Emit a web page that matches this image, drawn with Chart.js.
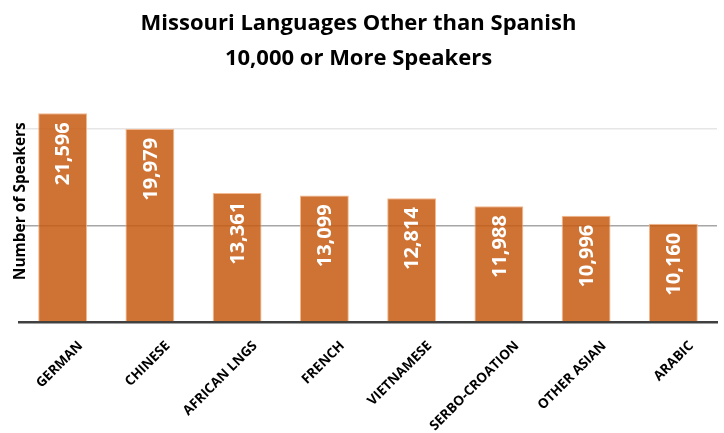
<!DOCTYPE html>
<html lang="en">
<head>
  <meta charset="UTF-8" />
  <title>Missouri Languages</title>
  <script src="https://cdn.jsdelivr.net/npm/chart.js"></script>
  <style>
    html, body { margin: 0; padding: 0; background: #fff; }
    .wrap { width: 724px; height: 433px; position: relative; }
  </style>
</head>
<body>
<div class="wrap"><canvas id="langChart"></canvas></div>

<script>
  // chart data
  const languages = ['GERMAN', 'CHINESE', 'AFRICAN LNGS', 'FRENCH', 'VIETNAMESE', 'SERBO-CROATION', 'OTHER ASIAN', 'ARABIC'];
  const speakers = [21596, 19979, 13361, 13099, 12814, 11988, 10996, 10160];
  const gridValues = [0, 10000, 20000];

  const fontFam = "'Open Sans', sans-serif";

  // white value labels written up the inside of each bar
  const barLabels = {
    id: 'barLabels',
    afterDatasetsDraw(chart) {
      const ctx = chart.ctx;
      const meta = chart.getDatasetMeta(0);
      ctx.save();
      ctx.fillStyle = '#ffffff';
      ctx.font = "bold 20px " + fontFam;
      ctx.textAlign = 'right';
      ctx.textBaseline = 'middle';
      meta.data.forEach((bar, i) => {
        ctx.save();
        ctx.translate(bar.x + 1, bar.y + 9);
        ctx.rotate(-Math.PI / 2);
        ctx.fillText(speakers[i].toLocaleString('en-US'), 0, 0);
        ctx.restore();
      });
      ctx.restore();
    }
  };

  new Chart(document.getElementById('langChart').getContext('2d'), {
    type: 'bar',
    data: {
      labels: languages,
      datasets: [{
        label: 'Speakers',
        data: speakers,
        backgroundColor: 'rgba(197,90,17,0.85)',
        borderColor: 'rgba(244,177,131,0.9)',
        borderWidth: 1,
        barPercentage: 0.56,
        categoryPercentage: 1
      }]
    },
    options: {
      responsive: true,
      maintainAspectRatio: false,
      animation: false,
      layout: { padding: { left: 0, right: 7, top: 0, bottom: 0 } },
      plugins: {
        legend: { display: false },
        tooltip: { enabled: false },
        title: {
          display: true,
          text: ['Missouri Languages Other than Spanish', '10,000 or More Speakers'],
          color: '#000000',
          font: { family: fontFam, size: 22, weight: 'bold', lineHeight: 1.6 },
          padding: { top: 6, bottom: 4 }
        }
      },
      scales: {
        x: {
          afterFit(scale) { scale.height = 111; },
          grid: { display: false },
          border: { display: true, color: '#404040', width: 2.5 },
          ticks: {
            autoSkip: false,
            minRotation: 45,
            maxRotation: 45,
            labelOffset: 18,
            padding: 8,
            color: '#000000',
            font: { family: fontFam, size: 13.5, weight: 'bold' }
          }
        },
        y: {
          min: 0,
          max: 25000,
          afterFit(scale) { scale.width = 19; },
          afterBuildTicks(scale) { scale.ticks = gridValues.map(v => ({ value: v })); },
          ticks: { display: false },
          border: { display: false },
          grid: {
            drawTicks: false,
            lineWidth: 1.5,
            color: (c) => {
              const v = c.tick ? c.tick.value : null;
              if (v === 10000) return '#a6a6a6';
              if (v === 20000) return '#e6e6e6';
              return 'rgba(0,0,0,0)';
            }
          },
          title: {
            display: true,
            text: 'Number of Speakers',
            color: '#000000',
            font: { family: fontFam, size: 15.5, weight: 'bold' },
            padding: { top: 11, bottom: 0 }
          }
        }
      }
    },
    plugins: [barLabels]
  });
</script>
</body>
</html>
